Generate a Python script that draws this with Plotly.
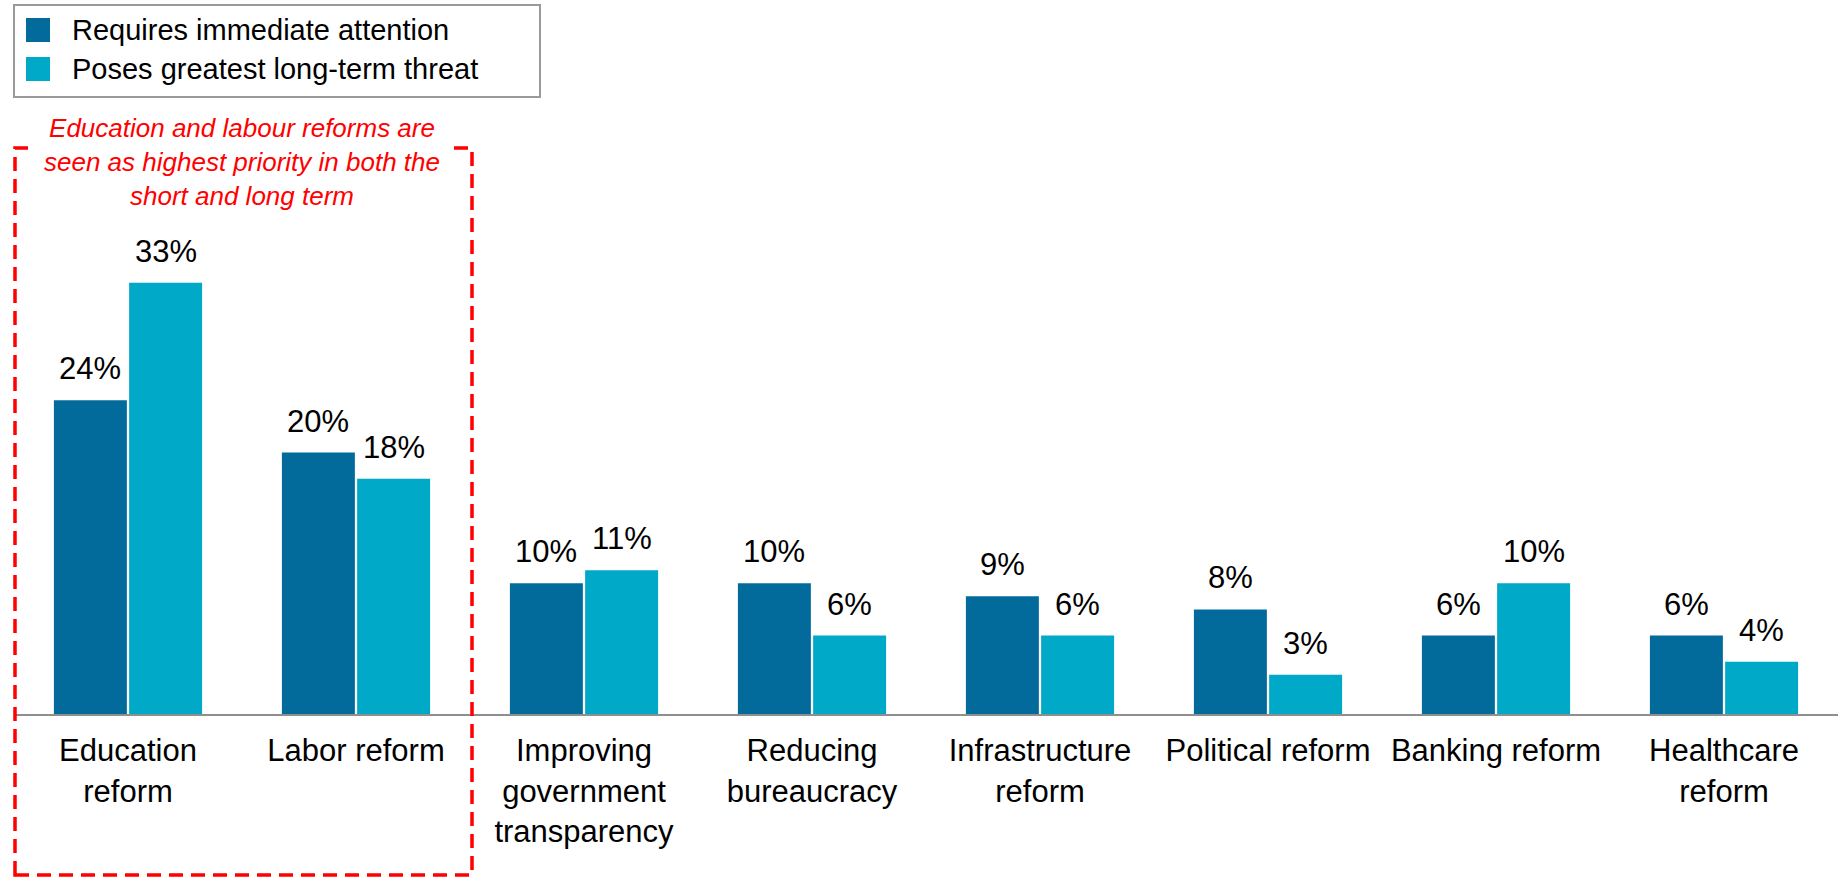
import plotly.graph_objects as go

categories = ["Education<br>reform", "Labor reform", "Improving<br>government<br>transparency",
              "Reducing<br>bureaucracy", "Infrastructure<br>reform", "Political reform",
              "Banking reform", "Healthcare<br>reform"]
immediate = [24, 20, 10, 10, 9, 8, 6, 6]
long_term = [33, 18, 11, 6, 6, 3, 10, 4]
series_names = ["Requires immediate attention", "Poses greatest long-term threat"]
colors = ["#036B9B", "#00A9C7"]
note = "<i>Education and labour reforms are<br>seen as highest priority in both the<br>short and long term</i>"

W, H = 1841, 877
L, R, T, B = 14, 3, 104, 163
PW = W - L - R
PH = H - T - B
px_per_unit = 13.07
ymax = PH / px_per_unit
BARGAP = 0.34
FONT = "Liberation Sans, Arial, sans-serif"


def px_x(p):
    return (p - L) / PW


def px_y(p):
    return (H - B - p) / PH


fig = go.Figure()
for name, vals, col in zip(series_names, [immediate, long_term], colors):
    fig.add_trace(go.Bar(x=categories, y=vals, name=name, marker_color=col,
                         marker_line_width=0, showlegend=False, hoverinfo="skip"))

# data labels above bars
slot = (1 - BARGAP) / 2
annotations = []
for k, vals in enumerate([immediate, long_term]):
    for i, v in enumerate(vals):
        xpos = i - slot / 2 + k * slot
        annotations.append(dict(x=xpos, y=v, xref="x", yref="y", text=f"{v}%",
                                showarrow=False, yanchor="bottom", yshift=12,
                                font=dict(family=FONT, size=31, color="#000000")))

# note annotation
annotations.append(dict(x=px_x(242), y=px_y(162), xref="paper", yref="paper", text=note,
                        showarrow=False, xanchor="center", yanchor="middle",
                        bgcolor="#FFFFFF", width=420, borderpad=0,
                        font=dict(family=FONT, size=26, color="#FF0000")))

# manual legend
shapes = []
shapes.append(dict(type="rect", xref="paper", yref="paper",
                   x0=px_x(14), x1=px_x(540), y0=px_y(97), y1=px_y(5),
                   line=dict(color="#9A9A9A", width=2), fillcolor="rgba(0,0,0,0)"))
for j, (name, col) in enumerate(zip(series_names, colors)):
    cy = 30 + j * 39
    shapes.append(dict(type="rect", xref="paper", yref="paper",
                       x0=px_x(26), x1=px_x(50), y0=px_y(cy + 12), y1=px_y(cy - 12),
                       line=dict(width=0), fillcolor=col))
    annotations.append(dict(x=px_x(70), y=px_y(cy), xref="paper", yref="paper", text=name,
                            showarrow=False, xanchor="left", yanchor="middle",
                            font=dict(family=FONT, size=29, color="#000000")))

# dashed highlight box
shapes.append(dict(type="rect", xref="paper", yref="paper",
                   x0=px_x(15), x1=px_x(472), y0=px_y(875), y1=px_y(148),
                   line=dict(color="#FF0000", width=3.5, dash="14px,8px"),
                   fillcolor="rgba(0,0,0,0)", layer="above"))

fig.update_layout(
    width=W, height=H,
    margin=dict(l=L, r=R, t=T, b=B),
    paper_bgcolor="#FFFFFF", plot_bgcolor="#FFFFFF",
    barmode="group", bargap=BARGAP, bargroupgap=0.03,
    showlegend=False,
    annotations=annotations, shapes=shapes,
    font=dict(family=FONT, size=31, color="#000000"),
)
fig.update_xaxes(showline=True, linecolor="#8F8F8F", linewidth=2, ticks="",
                 showgrid=False, zeroline=False, ticklabelstandoff=8,
                 tickfont=dict(family=FONT, size=31, color="#000000"))
fig.update_yaxes(visible=False, range=[0, ymax], showgrid=False, zeroline=False)

fig.write_html("out.html")
